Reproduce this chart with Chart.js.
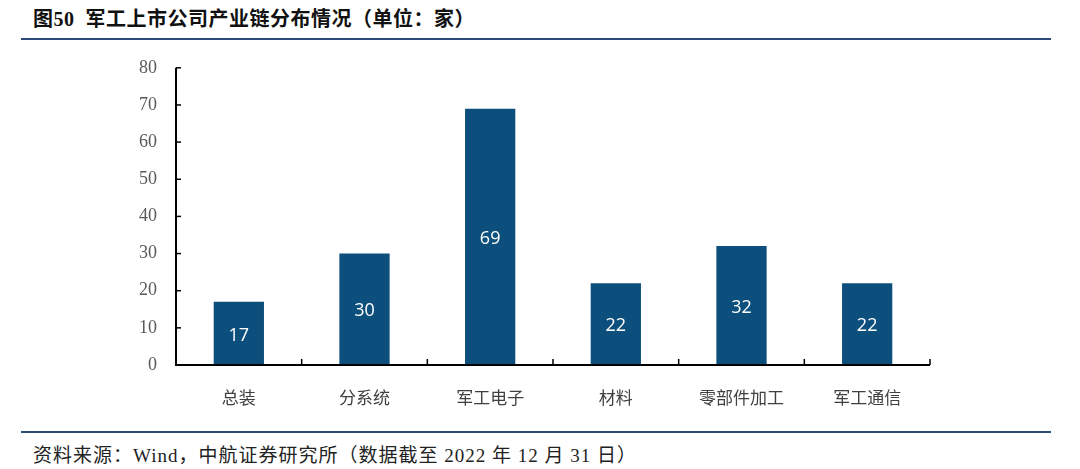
<!DOCTYPE html>
<html>
<head>
<meta charset="utf-8">
<script src="https://cdn.jsdelivr.net/npm/chart.js@4.4.0/dist/chart.umd.min.js"></script>
<style>
  body { margin: 0; width: 1080px; height: 469px; background: #fff; position: relative; overflow: hidden; }
  .title { position: absolute; left: 33px; top: 3px; font: bold 20px "Liberation Serif", "Noto Sans CJK SC", serif; color: #111; letter-spacing: 0.5px; }
  .rule { position: absolute; left: 21px; width: 1030px; height: 2px; background: #2e4a7a; }
  .source { position: absolute; left: 33px; top: 440px; font: 19px "Liberation Serif", "Noto Sans CJK SC", serif; color: #222; letter-spacing: 1px; }
  #wrap { position: absolute; left: 0; top: 38px; width: 1000px; height: 377px; }
</style>
</head>
<body>
<div class="title">图50&nbsp; 军工上市公司产业链分布情况（单位：家）</div>
<div class="rule" style="top:38px"></div>
<div id="wrap"><canvas id="chart"></canvas></div>
<div class="rule" style="top:431px"></div>
<div class="source">资料来源：Wind，中航证券研究所（数据截至 2022 年 12 月 31 日）</div>
<script>
const categories = ["总装", "分系统", "军工电子", "材料", "零部件加工", "军工通信"];
const companyCounts = [17, 30, 69, 22, 32, 22];
const yTicks = [0, 10, 20, 30, 40, 50, 60, 70, 80];

// ticks drawn inside the axes + value labels centred in each bar
const marksPlugin = {
  id: "marks",
  afterDatasetsDraw(chart) {
    const ctx = chart.ctx;
    const x = chart.scales.x, y = chart.scales.y;
    const area = chart.chartArea;
    ctx.save();
    ctx.strokeStyle = "#000";
    ctx.lineWidth = 2;
    ctx.beginPath();
    ctx.moveTo(area.left, y.getPixelForValue(80));
    ctx.lineTo(area.left, area.bottom);
    ctx.lineTo(area.right, area.bottom);
    ctx.stroke();
    ctx.lineWidth = 1.5;
    yTicks.forEach(v => {
      const py = y.getPixelForValue(v);
      ctx.beginPath();
      ctx.moveTo(area.left, py);
      ctx.lineTo(area.left + 5, py);
      ctx.stroke();
    });
    for (let i = 1; i <= categories.length; i++) {
      const px = i < categories.length
        ? (x.getPixelForValue(i - 1) + x.getPixelForValue(i)) / 2
        : area.right;
      ctx.beginPath();
      ctx.moveTo(px, area.bottom);
      ctx.lineTo(px, area.bottom - 6);
      ctx.stroke();
    }
    const meta = chart.getDatasetMeta(0);
    ctx.fillStyle = "#fff";
    ctx.font = '18px "Open Sans", sans-serif';
    ctx.textAlign = "center";
    ctx.textBaseline = "middle";
    meta.data.forEach((bar, i) => {
      ctx.fillText(companyCounts[i], bar.x, (bar.y + bar.base) / 2 + 2);
    });
    ctx.restore();
  }
};

new Chart(document.getElementById("chart"), {
  type: "bar",
  data: {
    labels: categories,
    datasets: [{
      data: companyCounts,
      backgroundColor: "#0d4f7c",
      categoryPercentage: 0.4,
      barPercentage: 1
    }]
  },
  options: {
    responsive: true,
    maintainAspectRatio: false,
    animation: false,
    layout: { padding: { left: 116, top: 12, right: 70, bottom: 0 } },
    plugins: { legend: { display: false }, tooltip: { enabled: false } },
    scales: {
      x: {
        grid: { display: false, drawTicks: false },
        border: { display: false },
        ticks: { color: "#404040", padding: 22, font: { family: '"Noto Sans CJK SC", sans-serif', size: 17 } },
        afterFit: s => { s.height = 50; }
      },
      y: {
        min: 0,
        max: 80,
        grid: { display: false, drawTicks: false },
        border: { display: false },
        ticks: { stepSize: 10, color: "#595959", padding: 19, font: { family: '"Liberation Serif", serif', size: 18 } },
        afterFit: s => { s.width = 60; }
      }
    }
  },
  plugins: [marksPlugin]
});
</script>
</body>
</html>
